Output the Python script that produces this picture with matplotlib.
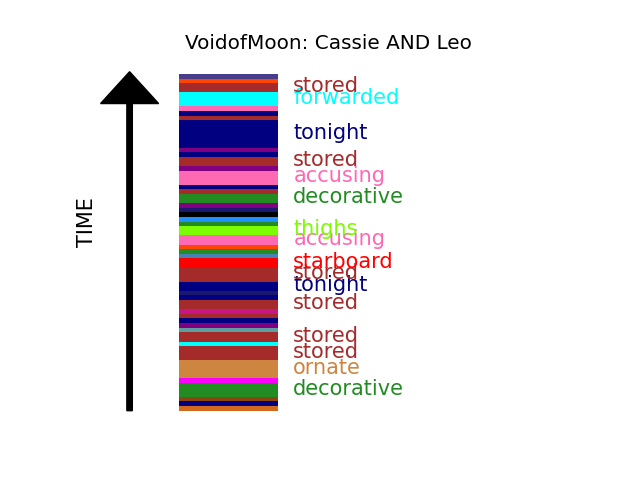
import matplotlib
matplotlib.use('Agg')
import matplotlib.pyplot as plt

# events from oldest (bottom) to newest (top)
durations = [1, 1, 1, 3, 1, 4, 3, 1, 2, 1, 1, 1, 1, 1, 2, 1, 1, 2,
             3, 2, 1, 1, 1, 2, 2, 1, 1, 1, 1, 1, 2, 1, 1, 3, 1, 2,
             1, 1, 6, 1, 1, 1, 3, 2, 1, 1]
colors = ['chocolate', 'navy', 'saddlebrown', 'forestgreen', 'magenta', 'peru',
          'brown', 'cyan', 'brown', 'cadetblue', 'purple', 'navy', 'brown',
          'mediumvioletred', 'brown', 'navy', 'midnightblue', 'navy', 'brown',
          'red', 'steelblue', 'forestgreen', 'orangered', 'hotpink', 'lawngreen',
          'forestgreen', 'dodgerblue', 'black', 'midnightblue', 'purple',
          'forestgreen', 'brown', 'navy', 'hotpink', 'purple', 'brown', 'navy',
          'purple', 'navy', 'brown', 'navy', 'hotpink', 'cyan', 'brown',
          'orangered', 'darkslateblue']
words = ['', '', '', 'decorative', '', 'ornate', 'stored', '', 'stored', '', '',
         '', '', '', 'stored', '', '', 'tonight', 'stored', 'starboard', '', '',
         '', 'accusing', 'thighs', '', '', '', '', '', 'decorative', '', '',
         'accusing', '', 'stored', '', '', 'tonight', '', '', '', 'forwarded',
         'stored', '', '']

fig, ax = plt.subplots(figsize=(6.4, 4.8), dpi=100)

bottoms = []
b = 0
for d in durations:
    bottoms.append(b)
    b += d
total = b

ax.bar([0.3] * len(durations), durations, width=0.2, bottom=bottoms,
       color=colors, linewidth=0)

for w, c, bt, d in zip(words, colors, bottoms, durations):
    if w:
        ax.annotate(w, (0.43, bt + d / 2), xytext=(0, 1), textcoords='offset points',
                    color=c, fontsize=15, va='center', ha='left')

# arrow du temps
ax.arrow(0.1, 0, 0, total + 0.5, width=0.011, head_width=0.117, head_length=6.9,
         length_includes_head=True, color='black')
ax.text(0.015, 41, 'TIME', rotation=90, fontsize=15, va='center', ha='center')

ax.set_xlim(0, 1)
ax.set_ylim(-3.58, total + 3.56)
ax.axis('off')
ax.set_title('VoidofMoon: Cassie AND Leo', fontsize=14.4)

plt.savefig('out.png')
